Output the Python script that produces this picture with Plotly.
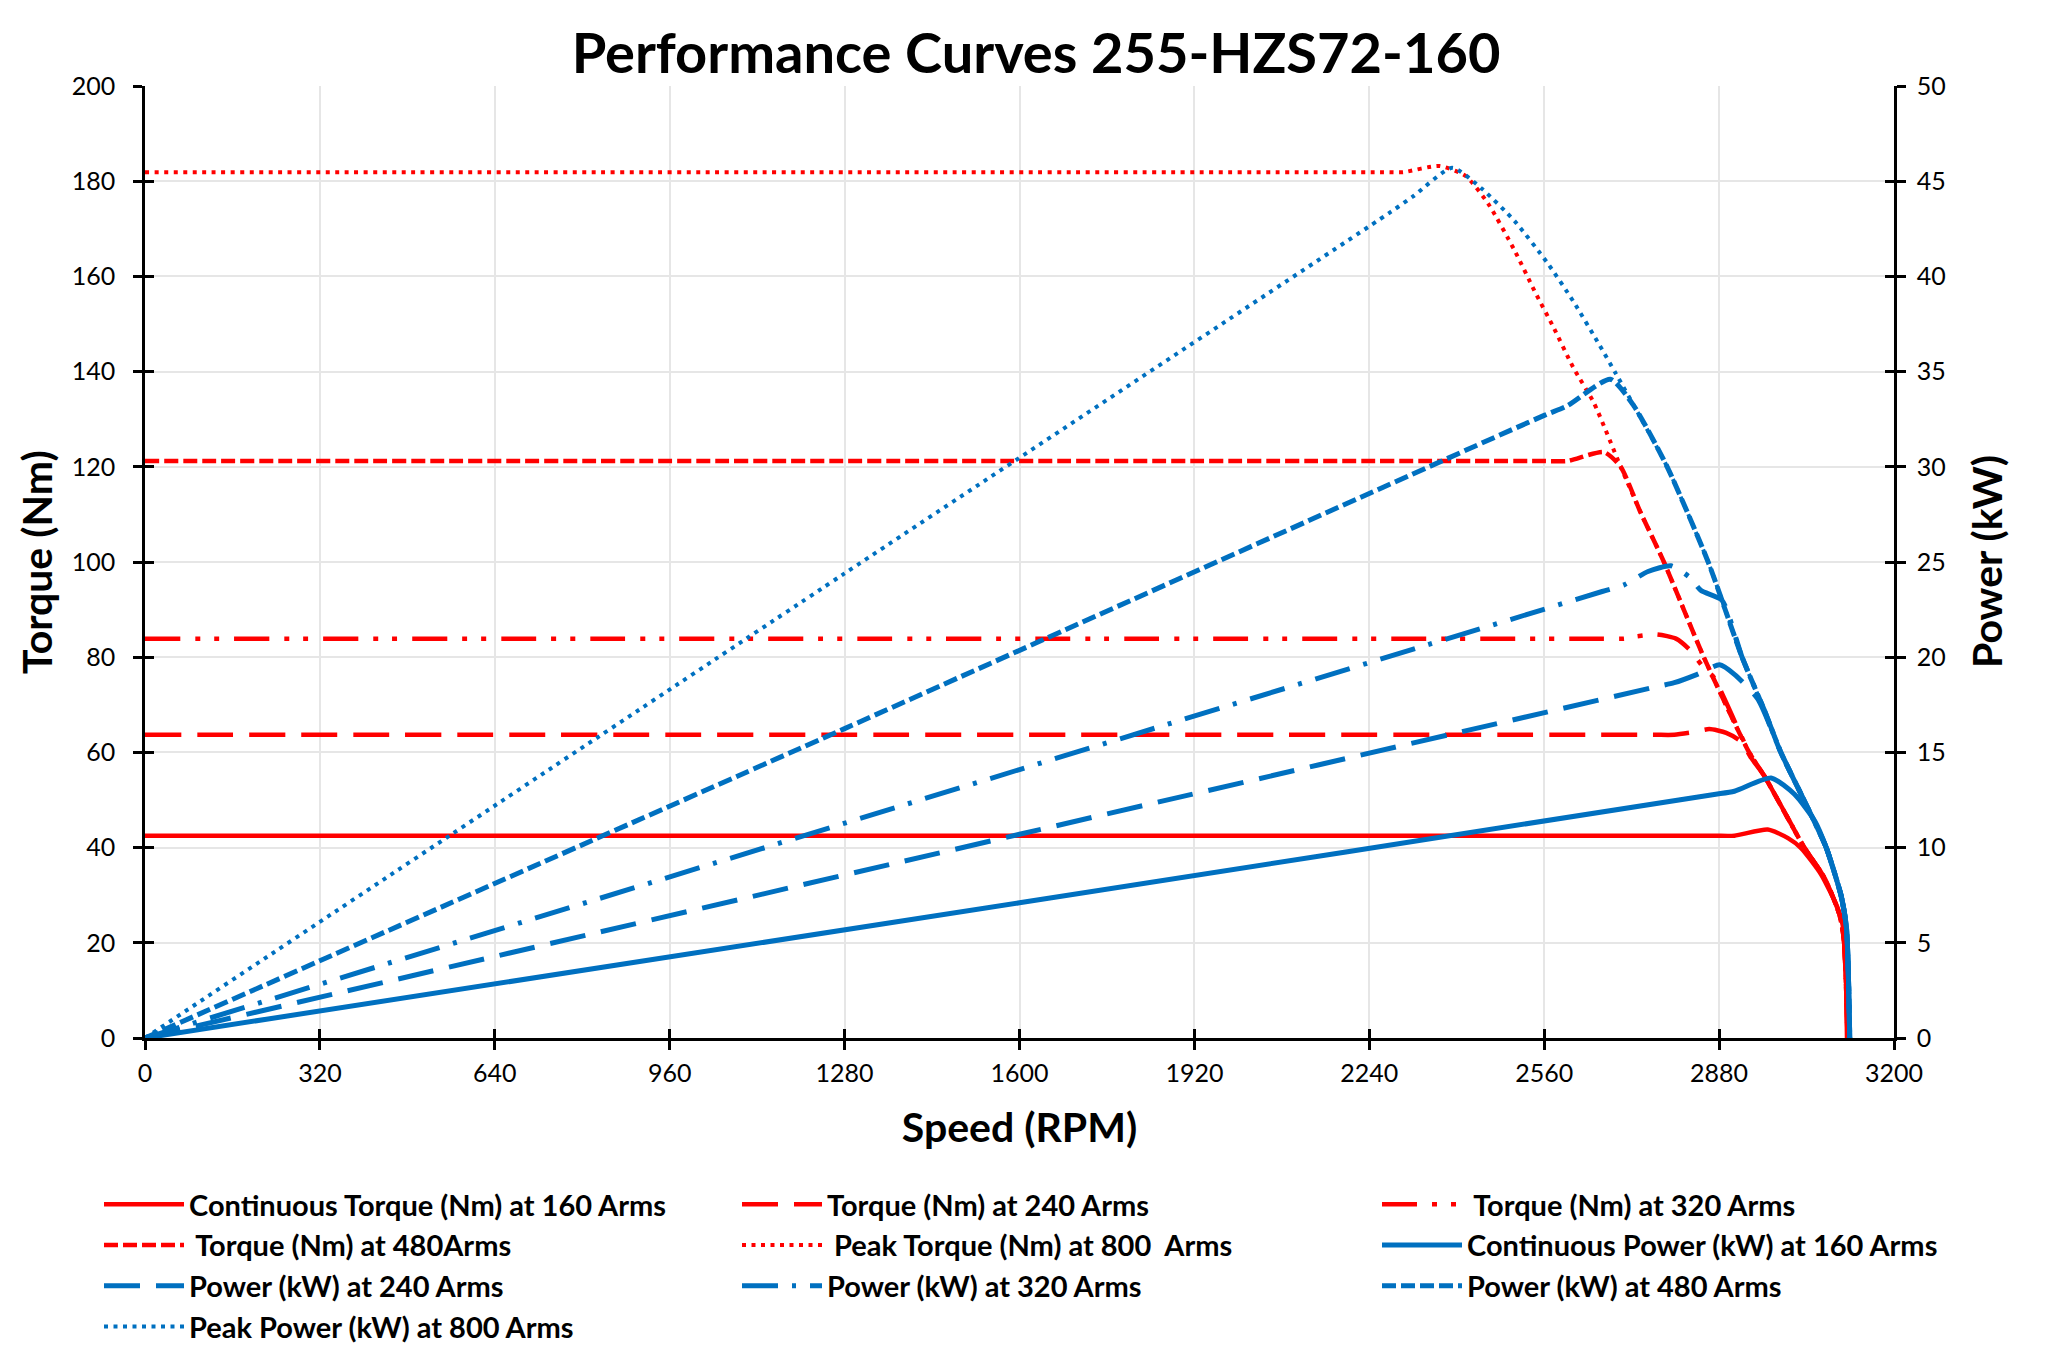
import plotly.graph_objects as go

# ---------------- data ----------------
rpm_t160 = [0, 2868, 2908, 2969, 3006, 3030, 3067, 3097, 3106, 3111, 3114]
nm_t160 = [42.5, 42.5, 42.5, 43.8, 42.0, 39.9, 34.3, 27.3, 23.8, 16.8, 0]

rpm_t240 = [0, 2758, 2798, 2830, 2862, 2893, 2920, 2939, 2963, 3036, 3073, 3100, 3108, 3112, 3115]
nm_t240 = [63.7, 63.7, 63.7, 64.2, 64.9, 64.1, 62.3, 58.8, 55.0, 40.0, 33.6, 26.0, 21.0, 12.0, 0]

rpm_t320 = [0, 2666, 2706, 2730, 2766, 2801, 2826, 2853, 2870, 2935, 2963, 3036, 3073, 3100, 3108,
            3112, 3115]
nm_t320 = [83.9, 83.9, 83.9, 84.4, 84.8, 83.9, 81.6, 77.6, 75.8, 60.0, 55.0, 40.0, 33.6, 26.0,
           21.0, 12.0, 0]

rpm_t480 = [0, 2560, 2602, 2669, 2700, 2736, 2779, 2852, 2935, 2963, 3036, 3073, 3100, 3108, 3112,
            3115]
nm_t480 = [121.2, 121.2, 121.2, 123.1, 120.0, 110.5, 100.0, 80.0, 60.0, 55.0, 40.0, 33.6, 26.0,
           21.0, 12.0, 0]

rpm_t800 = [0, 2260, 2302, 2368, 2416, 2458, 2506, 2542, 2577, 2613, 2651, 2700, 2736, 2779, 2852,
            2935, 2963, 3036, 3073, 3100, 3108, 3112, 3115]
nm_t800 = [181.9, 181.9, 181.9, 183.2, 181.1, 175.2, 165.4, 157.0, 149.3, 140.9, 133.4, 120.0,
           110.5, 100.0, 80.0, 60.0, 55.0, 40.0, 33.6, 26.0, 21.0, 12.0, 0]

rpm_p160 = [0, 1600, 2868, 2908, 2975, 3018, 3055, 3076, 3103, 3113, 3119]
kw_p160 = [0, 7.1, 12.78, 12.96, 13.66, 12.8, 11.4, 10.0, 7.5, 5.8, 0]

rpm_p240 = [0, 1600, 2758, 2798, 2840, 2881, 2908, 2951, 2993, 3042, 3076, 3103, 3113, 3119]
kw_p240 = [0, 10.7, 18.4, 18.66, 19.1, 19.6, 19.1, 17.8, 15.0, 12.1, 10.0, 7.5, 5.8, 0]

rpm_p320 = [0, 1600, 2666, 2706, 2750, 2792, 2826, 2847, 2885, 2922, 2963, 2993, 3042, 3076, 3103,
            3113, 3119]
kw_p320 = [0, 14.1, 23.45, 23.8, 24.5, 24.8, 24.2, 23.5, 23.0, 20.0, 17.2, 15.0, 12.1, 10.0, 7.5,
           5.8, 0]

rpm_p480 = [0, 1280, 2560, 2602, 2681, 2724, 2785, 2860, 2922, 2963, 2993, 3042, 3076, 3103, 3113,
            3119]
kw_p480 = [0, 16.25, 32.7, 33.2, 34.6, 33.2, 30.0, 25.0, 20.0, 17.2, 15.0, 12.1, 10.0, 7.5, 5.8, 0]

rpm_p800 = [0, 1280, 2280, 2320, 2392, 2446, 2506, 2566, 2613, 2661, 2691, 2736, 2785, 2860, 2922,
            2963, 2993, 3042, 3076, 3103, 3113, 3119]
kw_p800 = [0, 24.4, 43.4, 44.2, 45.7, 44.6, 42.9, 40.7, 38.7, 36.4, 34.9, 32.6, 30.0, 25.0, 20.0,
           17.2, 15.0, 12.1, 10.0, 7.5, 5.8, 0]

names = [
    "Continuous Torque (Nm) at 160 Arms",
    "Torque (Nm) at 240 Arms",
    "\u00a0Torque (Nm) at 320 Arms",
    "\u00a0Torque (Nm) at 480Arms",
    "\u00a0Peak Torque (Nm) at 800\u00a0\u00a0Arms",
    "Continuous Power (kW) at 160 Arms",
    "Power (kW) at 240 Arms",
    "Power (kW) at 320 Arms",
    "Power (kW) at 480 Arms",
    "Peak Power (kW) at 800 Arms",
]

x_ticks = [0, 320, 640, 960, 1280, 1600, 1920, 2240, 2560, 2880, 3200]

title_text = "Performance Curves 255-HZS72-160"
x_title = "Speed (RPM)"
y_title = "Torque (Nm)"
y2_title = "Power (kW)"

# ---------------- styling ----------------
RED = "#FF0000"
BLUE = "#0070C0"
FONT = "Lato"

D_SOLID = "solid"
D_LONG = "36px,16px"
D_LDD = "35px,15px,5px,14px,5px,15px"
D_LD = "36px,14px,4px,14px"
D_DASH = "14px,5px"
D_DOT = "4px,5.5px"

series = [
    (rpm_t160, nm_t160, "y", RED, D_SOLID, 4.5),
    (rpm_t240, nm_t240, "y", RED, D_LONG, 4.5),
    (rpm_t320, nm_t320, "y", RED, D_LDD, 4.5),
    (rpm_t480, nm_t480, "y", RED, D_DASH, 4.5),
    (rpm_t800, nm_t800, "y", RED, D_DOT, 4),
    (rpm_p160, kw_p160, "y2", BLUE, D_SOLID, 5),
    (rpm_p240, kw_p240, "y2", BLUE, D_LONG, 5),
    (rpm_p320, kw_p320, "y2", BLUE, D_LD, 5),
    (rpm_p480, kw_p480, "y2", BLUE, D_DASH, 5),
    (rpm_p800, kw_p800, "y2", BLUE, D_DOT, 4),
]

# legend column for each series (row-major, three columns as in the reference)
legend_ids = ["legend", "legend2", "legend3"]

fig = go.Figure()
for i, ((xs, ys, yax, col, dash, w), nm) in enumerate(zip(series, names)):
    fig.add_trace(go.Scatter(
        x=xs, y=ys, yaxis=yax, name=nm, mode="lines",
        legend=legend_ids[i % 3],
        line=dict(color=col, dash=dash, width=w, shape="spline", smoothing=0.6),
    ))

# empty helper traces so the inside half of the crossing ticks is drawn
fig.add_trace(go.Scatter(x=[], y=[], xaxis="x2", yaxis="y3", showlegend=False, hoverinfo="skip"))
fig.add_trace(go.Scatter(x=[], y=[], xaxis="x2", yaxis="y4", showlegend=False, hoverinfo="skip"))

tickfont = dict(family=FONT, size=25, color="#000000")
axis_common = dict(showline=True, linecolor="#000000", linewidth=2.5,
                   ticks="outside", ticklen=9, tickwidth=2.5, tickcolor="#000000",
                   gridcolor="#E6E6E6", gridwidth=1.5, zeroline=False, tickfont=tickfont)
inside_common = dict(showline=False, showgrid=False, zeroline=False, ticks="inside",
                     ticklen=9, tickwidth=2.5, tickcolor="#000000", showticklabels=False)
title_font = dict(family=FONT, size=41, color="#000000", weight="bold")
legend_font = dict(family=FONT, size=29, color="#000000", weight="bold")

L, R, T, B = 137, 162, 78, 324
PW = 2048 - L - R


def legend_box(x_px):
    return dict(orientation="v", xref="container", yref="container",
                x=x_px / 2048, y=1 - 1171 / 1354, xanchor="left", yanchor="top",
                itemwidth=80, font=legend_font, bgcolor="rgba(0,0,0,0)",
                traceorder="normal", tracegroupgap=0)


fig.update_layout(
    width=2048, height=1354,
    paper_bgcolor="white", plot_bgcolor="white",
    margin=dict(l=L, r=R, t=T, b=B, autoexpand=False),
    title=dict(text=title_text,
               font=dict(family=FONT, size=56, color="#000000", weight="bold"),
               x=1028 / 2048, xanchor="center", xref="container",
               y=1 - 45 / 1354, yanchor="middle", yref="container"),
    xaxis=dict(range=[0, 3200], tickvals=x_ticks, showgrid=True, ticklabelstandoff=2,
               title=dict(text=x_title, standoff=28, font=title_font),
               **axis_common),
    yaxis=dict(range=[0, 200], dtick=20, showgrid=True, ticklabelstandoff=13,
               **axis_common),
    yaxis2=dict(range=[0, 50], dtick=5, overlaying="y", side="right", anchor="x",
                showgrid=False, ticklabelstandoff=6,
                **{k: v for k, v in axis_common.items() if k not in ("gridcolor", "gridwidth")}),
    xaxis2=dict(range=[0, 3200], tickvals=x_ticks, overlaying="x", anchor="y", side="bottom",
                automargin=False, **inside_common),
    yaxis3=dict(range=[0, 200], dtick=20, overlaying="y", anchor="x2", side="left",
                automargin=False, **inside_common),
    yaxis4=dict(range=[0, 50], dtick=5, overlaying="y", anchor="x2", side="right",
                automargin=False, **inside_common),
    legend=legend_box(91),
    legend2=legend_box(729),
    legend3=legend_box(1369),
    showlegend=True,
    annotations=[
        dict(text=y_title, xref="paper", yref="paper", x=(28 - L) / PW, y=0.5,
             xanchor="center", yanchor="middle", textangle=-90, showarrow=False,
             font=title_font),
        dict(text=y2_title, xref="paper", yref="paper", x=(1978 - L) / PW, y=0.5,
             xanchor="center", yanchor="middle", textangle=-90, showarrow=False,
             font=title_font),
    ],
)

fig.write_html("out.html")
